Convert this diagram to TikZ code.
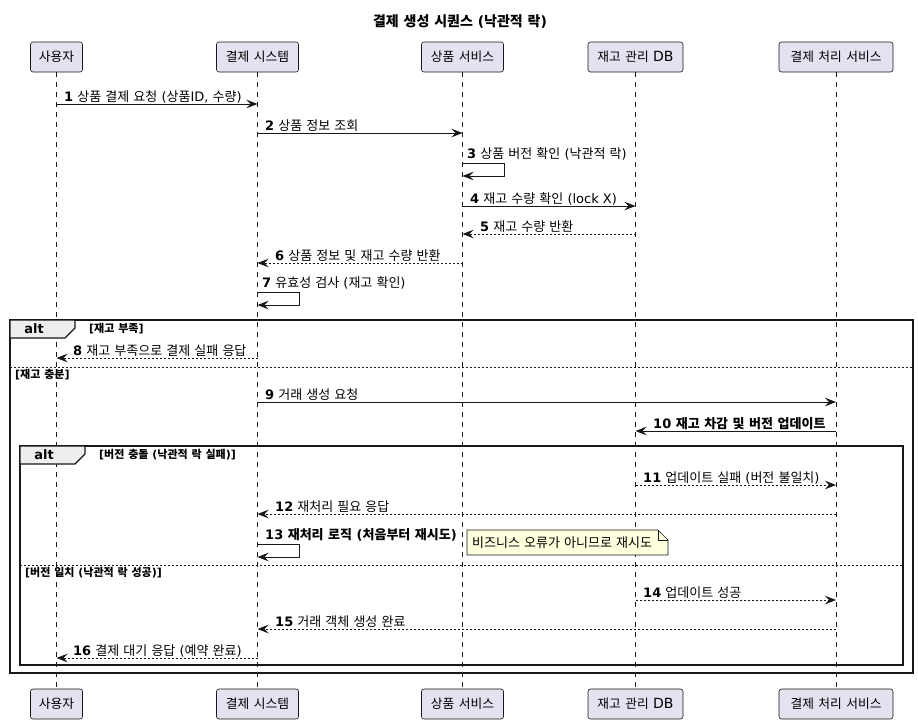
\documentclass[tikz,border=0pt]{standalone}
\usepackage{fontspec}
\setmainfont{DejaVu Sans}
\newfontfamily\krfontN{Noto Sans CJK KR}
\newfontfamily\krfontP{Noto Sans CJK KR}[Scale=0.91]
\let\krsel\krfontN
\XeTeXinterchartokenstate=1
\newXeTeXintercharclass\HangulClass
\newcount\hc
\hc="AC00
\loop\XeTeXcharclass\hc=\HangulClass\ifnum\hc<"D7A3 \advance\hc by 1 \repeat
\XeTeXinterchartoks 0 \HangulClass={\krsel}
\XeTeXinterchartoks 4095 \HangulClass={\krsel}
\XeTeXinterchartoks \HangulClass 0={\rmfamily}
\XeTeXinterchartoks \HangulClass 4095={\rmfamily}
\usetikzlibrary{arrows.meta}
\definecolor{partfill}{HTML}{E2E2F0}
\definecolor{ink}{HTML}{181818}
\definecolor{notefill}{HTML}{FEFFDD}
\definecolor{tabfill}{HTML}{EEEEEE}
\tikzset{
  part/.style={draw=ink, fill=partfill, rounded corners=2.5pt, line width=0.6pt,
    minimum height=30pt, inner sep=0pt, font=\fontsize{14}{16}\selectfont\let\krsel\krfontP},
  lifeline/.style={draw=ink, line width=0.5pt, dash pattern=on 5pt off 5pt},
  msg/.style={draw=ink, line width=0.9pt, -{Stealth[length=11pt,width=8.5pt,inset=4pt]}},
  ret/.style={msg, dash pattern=on 2pt off 2pt},
  lbl/.style={anchor=base west, inner sep=0pt, font=\fontsize{13}{15}\selectfont},
  frame/.style={draw=ink, line width=1.5pt},
  sep/.style={draw=ink, line width=0.8pt, dash pattern=on 2pt off 2pt},
  glbl/.style={anchor=center, inner sep=0pt, font=\fontsize{11}{13}\selectfont\bfseries},
  tabtxt/.style={anchor=center, inner sep=0pt, font=\fontsize{13}{15}\selectfont\bfseries},
}
\begin{document}
\begin{tikzpicture}[x=1pt,y=-1pt]
\useasboundingbox[fill=white] (0,0) rectangle (918,724);
% title
\node[inner sep=0pt, font=\fontsize{14}{16}\selectfont\bfseries] (title) at (460,22) {결제 생성 시퀀스 (낙관적 락)};
% participants
\node[part, minimum width=52pt]  (pA) at (56.5,57) {사용자};
\node[part, minimum width=82pt]  (pB) at (257.5,57) {결제 시스템};
\node[part, minimum width=82pt]  (pC) at (462.5,57) {상품 서비스};
\node[part, minimum width=95pt]  (pD) at (635.5,57) {재고 관리 DB};
\node[part, minimum width=114pt] (pE) at (836,57) {결제 처리 서비스};
\node[part, minimum width=52pt]  (qA) at (56.5,704) {사용자};
\node[part, minimum width=82pt]  (qB) at (257.5,704) {결제 시스템};
\node[part, minimum width=82pt]  (qC) at (462.5,704) {상품 서비스};
\node[part, minimum width=95pt]  (qD) at (635.5,704) {재고 관리 DB};
\node[part, minimum width=114pt] (qE) at (836,704) {결제 처리 서비스};
% lifelines
\foreach \a/\b in {pA/qA,pB/qB,pC/qC,pD/qD,pE/qE}
  \draw[lifeline] (\a.south) -- (\b.north);
% outer alt frame
\draw[frame] (10,320) rectangle (913,673);
\filldraw[fill=tabfill, draw=ink, line width=1.2pt] (10,320) -- (75,320) -- (75,328) -- (65,338) -- (10,338) -- cycle;
\node[tabtxt] (altA) at (34,329) {alt};
\node[glbl, anchor=west] (gA1) at (89,329) {[재고 부족]};
\draw[sep] (10,367) -- (913,367);
\node[glbl, anchor=west] (gA2) at (15,375) {[재고 충분]};
% inner alt frame
\draw[frame] (20,446) rectangle (903,665);
\filldraw[fill=tabfill, draw=ink, line width=1.2pt] (20,446) -- (85,446) -- (85,454) -- (75,464) -- (20,464) -- cycle;
\node[tabtxt] (altB) at (44,455) {alt};
\node[glbl, anchor=west] (gB1) at (99,455) {[버전 충돌 (낙관적 락 실패)]};
\draw[sep] (20,565) -- (903,565);
\node[glbl, anchor=west] (gB2) at (25,573) {[버전 일치 (낙관적 락 성공)]};
% messages
\draw[msg] (pA |- 0,104) -- (pB |- 0,104);
\node[lbl] (l1) at (64,101) {{\bfseries 1} 상품 결제 요청 (상품ID, 수량)};
\draw[msg] (pB |- 0,133) -- (pC |- 0,133);
\node[lbl] (l2) at (265,130) {{\bfseries 2} 상품 정보 조회};
\draw[msg] (pC |- 0,163) -- ++(42,0) |- (pC |- 0,176);
\node[lbl] (l3) at (467,158.5) {{\bfseries 3} 상품 버전 확인 (낙관적 락)};
\draw[msg] (pC |- 0,206) -- (pD |- 0,206);
\node[lbl] (l4) at (470,203) {{\bfseries 4} 재고 수량 확인 (lock X)};
\draw[ret] (pD |- 0,234) -- (pC |- 0,234);
\node[lbl] (l5) at (480,231) {{\bfseries 5} 재고 수량 반환};
\draw[ret] (pC |- 0,263) -- (pB |- 0,263);
\node[lbl] (l6) at (275,260) {{\bfseries 6} 상품 정보 및 재고 수량 반환};
\draw[msg] (pB |- 0,292) -- ++(42,0) |- (pB |- 0,305);
\node[lbl] (l7) at (262,287.5) {{\bfseries 7} 유효성 검사 (재고 확인)};
\draw[ret] (pB |- 0,358) -- (pA |- 0,358);
\node[lbl] (l8) at (73,355) {{\bfseries 8} 재고 부족으로 결제 실패 응답};
\draw[msg] (pB |- 0,402) -- (pE |- 0,402);
\node[lbl] (l9) at (265,399) {{\bfseries 9} 거래 생성 요청};
\draw[msg] (pE |- 0,431) -- (pD |- 0,431);
\node[lbl, font=\fontsize{13}{15}\selectfont\bfseries] (l10) at (653,428) {10 재고 차감 및 버전 업데이트};
\draw[ret] (pD |- 0,485) -- (pE |- 0,485);
\node[lbl] (l11) at (643,482) {{\bfseries 11} 업데이트 실패 (버전 불일치)};
\draw[ret] (pE |- 0,514) -- (pB |- 0,514);
\node[lbl] (l12) at (275,511) {{\bfseries 12} 재처리 필요 응답};
\draw[msg] (pB |- 0,544) -- ++(42,0) |- (pB |- 0,557);
\node[lbl, font=\fontsize{13}{15}\selectfont\bfseries] (l13) at (265,539.5) {13 재처리 로직 (처음부터 재시도)};
% note
\filldraw[fill=notefill, draw=ink, line width=0.6pt] (467,530) -- (658,530) -- (668,540) -- (668,555) -- (467,555) -- cycle;
\draw[draw=ink, line width=0.6pt] (658,530) -- (658,540) -- (668,540);
\node[anchor=west, inner sep=0pt, font=\fontsize{13}{15}\selectfont] (note) at (472,543) {비즈니스 오류가 아니므로 재시도};
\draw[ret] (pD |- 0,600) -- (pE |- 0,600);
\node[lbl] (l14) at (643,597) {{\bfseries 14} 업데이트 성공};
\draw[ret] (pE |- 0,629) -- (pB |- 0,629);
\node[lbl] (l15) at (275,626) {{\bfseries 15} 거래 객체 생성 완료};
\draw[ret] (pB |- 0,658) -- (pA |- 0,658);
\node[lbl] (l16) at (73,655) {{\bfseries 16} 결제 대기 응답 (예약 완료)};
\end{tikzpicture}
\end{document}
